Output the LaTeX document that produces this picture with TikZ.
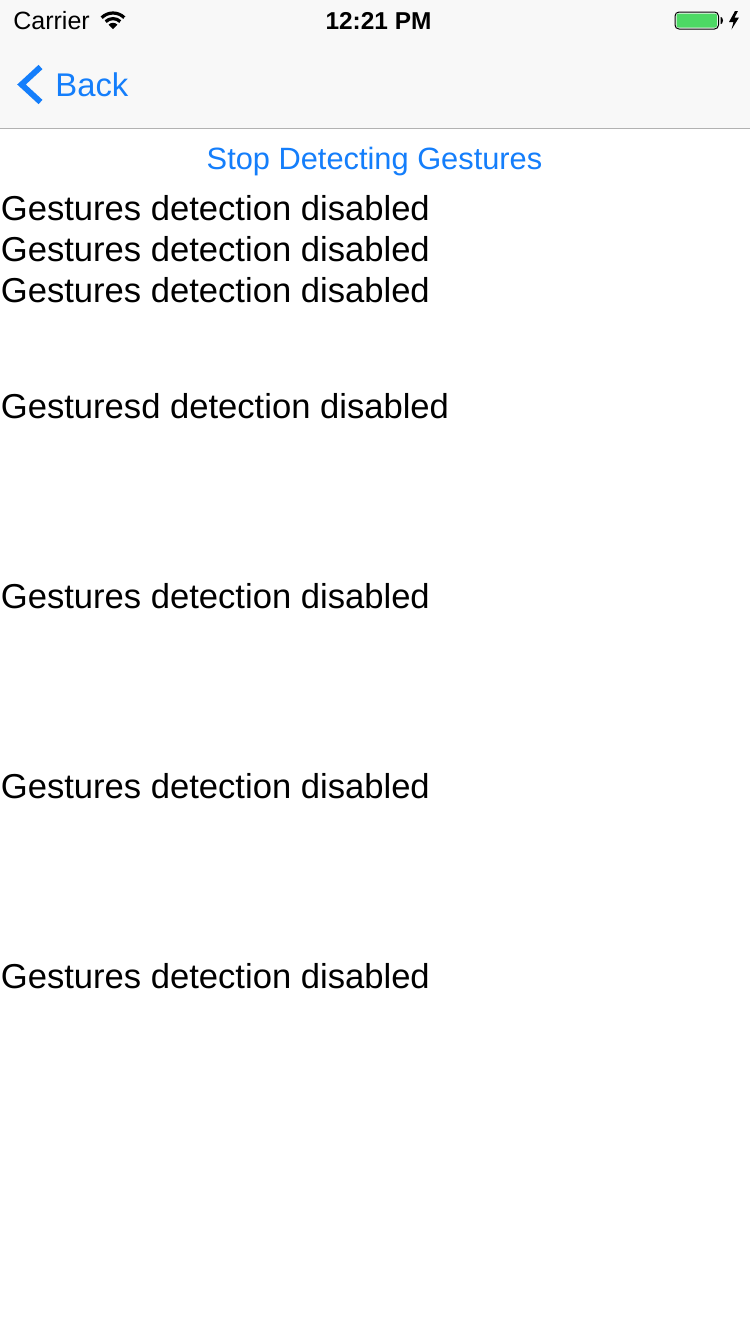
\documentclass[tikz,border=0pt]{standalone}
\usepackage{fontspec}
\setmainfont{Liberation Sans}
\usepackage{xcolor}
\usetikzlibrary{calc,positioning}
\definecolor{barbg}{HTML}{F8F8F8}
\definecolor{barline}{HTML}{B2B2B2}
\definecolor{linkblue}{HTML}{147EFB}
\definecolor{batgreen}{HTML}{4CD964}
\tikzset{
  rowtext/.style={anchor=base west, inner sep=0pt, font=\fontsize{17.3}{20}\selectfont},
  linktext/.style={anchor=base, inner sep=0pt, text=linkblue},
}
\begin{document}
\begin{tikzpicture}[x=0.5pt,y=-0.5pt]
        \useasboundingbox (0,0) rectangle (750,1334);
        \fill[white] (0,0) rectangle (750,1334);

        % Navigation bar
        \fill[barbg] (0,0) rectangle (750,128);
        \draw[barline, line width=0.5pt] (0,128.5) -- (750,128.5);

        % Status bar
        \node[anchor=base west, inner sep=0pt, font=\fontsize{12.5}{14}\selectfont] (carrier) at (13,29) {Carrier};
        \node[anchor=base, inner sep=0pt, font=\bfseries\fontsize{12.2}{14}\selectfont] (clock) at (378.5,29) {12:21 PM};

        % Wifi
        \begin{scope}
          \clip (113,29) -- (98,14) -- (98,9) -- (128,9) -- (128,14) -- cycle;
          \draw[line width=1.6pt] (113,29) ++(-135:16) arc (-135:-45:16);
          \draw[line width=1.6pt] (113,29) ++(-135:10.4) arc (-135:-45:10.4);
          \fill (113,29) -- ++(-135:6.2) arc (-135:-45:6.2) -- cycle;
        \end{scope}

        % Battery
        \draw[black, line width=0.5pt, rounded corners=2pt] (675,12) rectangle (718.5,29);
        \fill[batgreen, rounded corners=1pt] (676.5,13.5) rectangle (717,27.5);
        \fill (720.5,17) -- (722,17.5) -- (723,20.5) -- (722,23.5) -- (720.5,24) -- cycle;
        \fill (735,11) -- (729,22) -- (733.5,22) -- (731.5,29.5) -- (739,17.5) -- (734.5,17.5) -- (738,11) -- cycle;

        % Back button
        \draw[linkblue, line width=2.9pt, miter limit=10] (40.5,67) -- (21.5,84.5) -- (40.5,102);
        \node[linktext, anchor=base west, font=\fontsize{16.4}{20}\selectfont] (back) at (55,96) {Back};

        % Stop button
        \node[linktext, font=\fontsize{15.4}{18}\selectfont] (stopbtn) at (374.5,169) {Stop Detecting Gestures};

        % Rows
        \node[rowtext] (rowa) at (0.5,220) {Gestures detection disabled};
        \node[rowtext] (rowb) at (0.5,261) {Gestures detection disabled};
        \node[rowtext] (rowc) at (0.5,302) {Gestures detection disabled};
        \node[rowtext] (rowd) at (0.5,418) {Gesturesd detection disabled};
        \node[rowtext] (rowe) at (0.5,608) {Gestures detection disabled};
        \node[rowtext] (rowf) at (0.5,798) {Gestures detection disabled};
        \node[rowtext] (rowg) at (0.5,988) {Gestures detection disabled};
\end{tikzpicture}
\end{document}
